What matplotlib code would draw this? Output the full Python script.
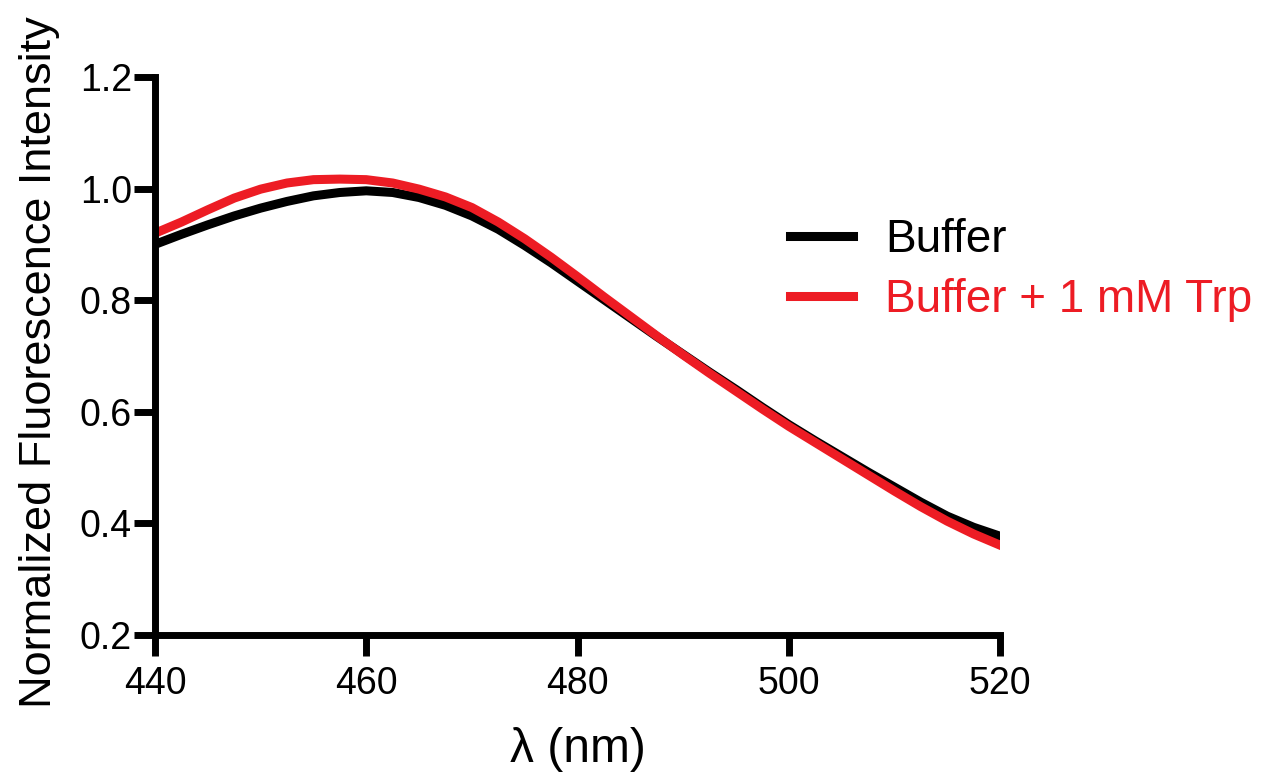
import matplotlib
matplotlib.use("Agg")
import matplotlib.pyplot as plt

plt.rcParams['font.family'] = ['Liberation Sans', 'DejaVu Sans']

wavelength = [440, 442.5, 445, 447.5, 450, 452.5, 455, 457.5, 460, 462.5, 465, 467.5,
              470, 472.5, 475, 477.5, 480, 482.5, 485, 487.5, 490, 492.5, 495, 497.5,
              500, 502.5, 505, 507.5, 510, 512.5, 515, 517.5, 520]
buffer_only = [0.900, 0.918, 0.935, 0.951, 0.965, 0.977, 0.987, 0.993, 0.996, 0.993, 0.984, 0.970,
               0.951, 0.927, 0.898, 0.867, 0.834, 0.801, 0.768, 0.735, 0.703, 0.671, 0.640, 0.608,
               0.577, 0.548, 0.520, 0.492, 0.465, 0.438, 0.413, 0.393, 0.377]
buffer_trp = [0.920, 0.940, 0.962, 0.983, 0.999, 1.010, 1.016, 1.017, 1.016, 1.010, 0.999, 0.985,
              0.966, 0.940, 0.910, 0.877, 0.842, 0.806, 0.771, 0.736, 0.702, 0.669, 0.637, 0.605,
              0.574, 0.545, 0.516, 0.487, 0.458, 0.430, 0.404, 0.381, 0.361]

series_labels = ['Buffer', 'Buffer + 1 mM Trp']
series_colors = ['black', '#ED1C24']

fig = plt.figure(figsize=(12.78, 7.76), dpi=100)
ax = fig.add_axes([0.1213, 0.1817, 0.6612, 0.7191])

ax.plot(wavelength, buffer_only, color=series_colors[0], lw=6.5, label=series_labels[0])
ax.plot(wavelength, buffer_trp, color=series_colors[1], lw=6.5, label=series_labels[1])

ax.set_xlim(440, 520)
ax.set_ylim(0.2, 1.2)
ax.set_xticks([440, 460, 480, 500, 520])
ax.set_yticks([0.2, 0.4, 0.6, 0.8, 1.0, 1.2])
ax.set_yticklabels(['0.2', '0.4', '0.6', '0.8', '1.0', '1.2'])

for side in ['top', 'right']:
    ax.spines[side].set_visible(False)
for side in ['left', 'bottom']:
    ax.spines[side].set_linewidth(5)
    ax.spines[side].set_capstyle('projecting')

ax.tick_params(axis='both', width=5, length=15, labelsize=27)
ax.tick_params(axis='y', pad=1.5)
ax.tick_params(axis='x', pad=7.5)
ax.set_xlabel('λ (nm)', fontsize=34.5, labelpad=18)
ax.set_ylabel('Normalized Fluorescence Intensity', fontsize=32.5)
ax.yaxis.set_label_coords(-0.113, 0.489)

leg = ax.legend(loc='center left', bbox_to_anchor=(0.6182, 0.652), bbox_transform=fig.transFigure,
                frameon=False, fontsize=33, handlelength=1.37, handletextpad=0.7,
                labelspacing=0.35, borderpad=0, borderaxespad=0)
for text, color in zip(leg.get_texts(), series_colors):
    text.set_color(color)

fig.savefig('out.png', dpi=100)
